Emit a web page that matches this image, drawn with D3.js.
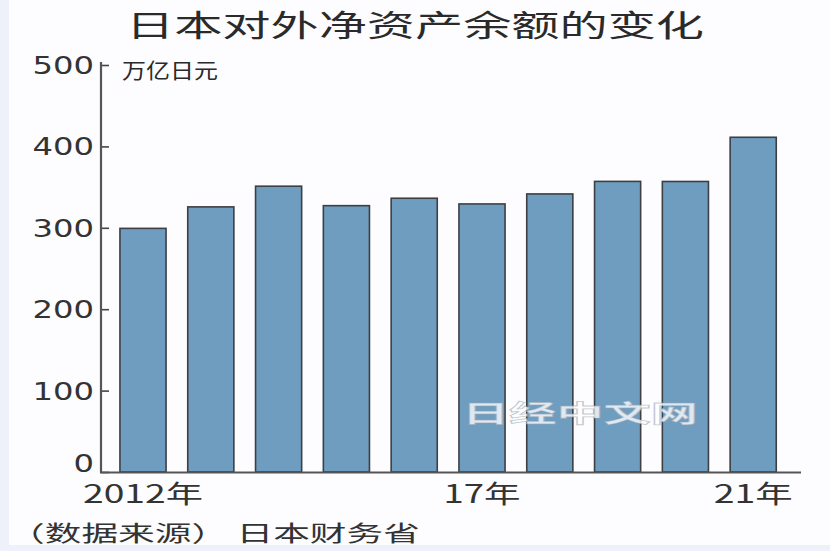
<!DOCTYPE html>
<html><head><meta charset="utf-8">
<script src="https://cdn.jsdelivr.net/npm/d3@7"></script>
<style>html,body{margin:0;padding:0;background:#eef1fa;}svg{display:block;}</style>
</head><body>
<svg id="chart" width="830" height="551"></svg>
<script>
const years = ["2012","2013","2014","2015","2016","2017","2018","2019","2020","2021"];
const values = [299.3, 325.7, 351.1, 327.2, 336.3, 329.3, 341.6, 357.0, 356.9, 411.2];
const yTicks = [0, 100, 200, 300, 400, 500];
const xLabels = {"2012":"2012年","2017":"17年","2021":"21年"};
const title = "日本对外净资产余额的变化";
const unit = "万亿日元";
const source = "（数据来源） 日本财务省";

const svg = d3.select("#chart");
const font = "'Noto Sans CJK SC','Noto Sans',sans-serif";
svg.append("rect").attr("x",9).attr("y",0).attr("width",821).attr("height",545).attr("fill","#fdfdff");

const x = d3.scaleBand().domain(years).range([109.1, 787.1]).paddingInner(0.32).paddingOuter(0.16);
const y = d3.scaleLinear().domain([0, 500]).range([472, 65]);

svg.append("text").attr("x", 126).attr("y", 36)
  .attr("font-family", font).attr("font-size", 30).attr("fill","#2a2a2a")
  .attr("textLength", 578).attr("lengthAdjust","spacingAndGlyphs").text(title);

// bars
svg.append("g").selectAll("rect").data(years).join("rect")
  .attr("x", d => x(d)).attr("width", x.bandwidth())
  .attr("y", (d,i) => y(values[i])).attr("height", (d,i) => y(0) - y(values[i]))
  .attr("fill", "#6f9dbf").attr("stroke", "#3c3f44").attr("stroke-width", 1.6);

// y axis
const yAxis = svg.append("g").attr("transform","translate(101,0)")
  .call(d3.axisRight(y).tickValues(yTicks).tickSize(8).tickFormat(""));
yAxis.select(".domain").remove();
yAxis.selectAll(".tick line").attr("stroke","#444").attr("stroke-width",1.6);
svg.append("line").attr("x1",101).attr("x2",101).attr("y1",62).attr("y2",473)
  .attr("stroke","#555").attr("stroke-width",2.2);
svg.append("g").selectAll("text").data(yTicks).join("text")
  .attr("x", d => 94 - String(d).length * 20.5).attr("y", d => y(d) + (d === 0 ? 0 : 9))
  .attr("font-family","'DejaVu Sans',sans-serif").attr("font-size", 24).attr("fill","#333")
  .attr("textLength", d => String(d).length * 20.5).attr("lengthAdjust","spacingAndGlyphs")
  .text(d => d);

// x axis
svg.append("line").attr("x1",100).attr("x2",801).attr("y1",472.5).attr("y2",472.5)
  .attr("stroke","#555").attr("stroke-width",1.8);
const xLabW = {"2012":120,"2017":77,"2021":79};
svg.append("g").selectAll("text").data(Object.keys(xLabels)).join("text")
  .attr("x", d => x(d) + x.bandwidth()/2 - xLabW[d]/2).attr("y", 503)
  .attr("font-family", font).attr("font-size", 25).attr("fill","#333")
  .attr("textLength", d => xLabW[d]).attr("lengthAdjust","spacingAndGlyphs")
  .text(d => xLabels[d]);

svg.append("text").attr("x", 122).attr("y", 78).attr("font-family", font).attr("font-size", 21)
  .attr("fill","#2a2a2a").attr("textLength", 96).attr("lengthAdjust","spacingAndGlyphs").text(unit);

svg.append("text").attr("x", 8).attr("y", 541).attr("font-family", font).attr("font-size", 22)
  .attr("fill","#333").attr("textLength", 412).attr("lengthAdjust","spacingAndGlyphs").text(source);

// watermark
svg.append("text").attr("x", 462).attr("y", 422).attr("font-family", font).attr("font-size", 24)
  .attr("font-weight","bold").attr("fill","#ffffff").attr("fill-opacity",0.8)
  .attr("stroke","#9aa6b4").attr("stroke-width",0.8).attr("stroke-opacity",0.6)
  .attr("textLength", 236).attr("lengthAdjust","spacingAndGlyphs").text("日经中文网");
</script>
</body></html>
